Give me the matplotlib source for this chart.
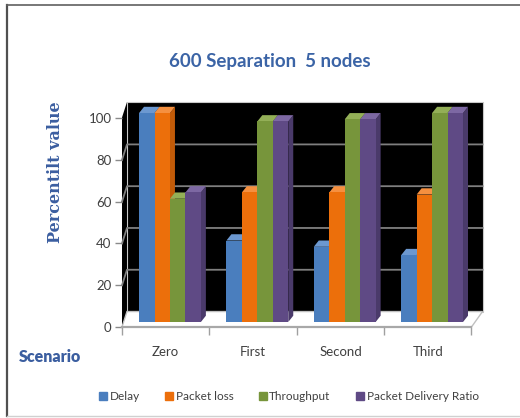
import matplotlib
matplotlib.use("Agg")
import matplotlib.pyplot as plt
from matplotlib.patches import Polygon
from matplotlib.lines import Line2D

# ---- data ----
categories = ["Zero", "First", "Second", "Third"]
series_names = ["Delay", "Packet loss", "Throughput", "Packet Delivery Ratio"]
delay = [100, 39, 36, 32]
packet_loss = [100, 62, 62, 61]
throughput = [59, 96, 97, 100]
delivery_ratio = [62, 96, 97, 100]
y_ticks = [0, 20, 40, 60, 80, 100]
y_tick_labels = ["0", "20", "40", "60", "80", "100"]

series = [delay, packet_loss, throughput, delivery_ratio]
front_colors = ["#4A7EBE", "#EC6F0B", "#77953B", "#5F4A85"]
top_colors = ["#6C98D0", "#F59040", "#93AF57", "#7D68A3"]
side_colors = ["#3A64A0", "#C25B08", "#5E7830", "#4A3A6A"]

SANS = "Lato"
SERIF = "DejaVu Serif"

W, H = 520, 418
fig = plt.figure(figsize=(W / 100, H / 100), dpi=100)
fig.patch.set_facecolor("white")

# outer frame of the chart area
fig.add_artist(Line2D([7 / W, 7 / W], [1 - 5 / H, 1 - 416 / H], color="#505050", lw=1.6))
fig.add_artist(Line2D([7 / W, 1.0], [1 - 5 / H, 1 - 5 / H], color="#606060", lw=1.2))
fig.add_artist(Line2D([7 / W, 1.0], [1 - 416 / H, 1 - 416 / H], color="#d0d0d0", lw=1.0))

# plotting region (front floor edge at bottom, back wall top at top)
y_lo, y_hi = -2.4, 105.3
x_lo, x_hi = -0.5, 3.626
ax = fig.add_axes([122 / W, 1 - 327 / H, 360.5 / W, 225 / H])
ax.set_xlim(x_lo, x_hi)
ax.set_ylim(y_lo, y_hi)
ax.set_facecolor("none")
for s in ax.spines.values():
    s.set_visible(False)

# depth of the 3-D box and of each bar
wall_dx, wall_dy = 0.057, 7.4
back_x_right = 3.626
bar_w = 0.177
bar_dx, bar_dy = 0.057, 3.0
group_offset = -0.305

# back wall, left wall, floor
back_left = x_lo + wall_dx
ax.add_patch(Polygon([(back_left, y_lo + wall_dy), (back_x_right, y_lo + wall_dy),
                      (back_x_right, y_hi), (back_left, y_hi)],
                     closed=True, facecolor="black", edgecolor="#c8c8c8", lw=0.8,
                     zorder=1, clip_on=False))
ax.add_patch(Polygon([(x_lo, y_lo), (back_left, y_lo + wall_dy), (back_left, y_hi),
                      (x_lo, y_hi - wall_dy)],
                     closed=True, facecolor="black", edgecolor="none",
                     zorder=1, clip_on=False))
ax.add_patch(Polygon([(x_lo, y_lo), (3.5, y_lo), (back_x_right, y_lo + wall_dy),
                      (back_left, y_lo + wall_dy)],
                     closed=True, facecolor="white", edgecolor="#c0c0c0", lw=1.0,
                     zorder=1, clip_on=False))
ax.plot([x_lo, 3.5], [y_lo, y_lo], color="#a8a8a8", lw=1.6, zorder=2, clip_on=False)

# gridlines on the walls
for v in y_ticks[1:-1]:
    ax.plot([x_lo, back_left, back_x_right], [v + y_lo, v + y_lo + wall_dy, v + y_lo + wall_dy],
            color="#7f7f7f", lw=1.3, zorder=2, clip_on=False)

# bars: front face via ax.bar, then top and side faces
z = 3
for ci in range(len(categories)):
    for si, vals in enumerate(series):
        x0 = ci + group_offset + si * bar_w
        h = vals[ci]
        x1 = x0 + bar_w
        ax.add_patch(Polygon([(x1, 0), (x1 + bar_dx, bar_dy), (x1 + bar_dx, h + bar_dy), (x1, h)],
                             closed=True, facecolor=side_colors[si], edgecolor="none",
                             zorder=z, clip_on=False))
        ax.add_patch(Polygon([(x0, h), (x1, h), (x1 + bar_dx, h + bar_dy), (x0 + bar_dx, h + bar_dy)],
                             closed=True, facecolor=top_colors[si], edgecolor="none",
                             zorder=z, clip_on=False))
        ax.bar([x0], [h], width=bar_w, align="edge", color=front_colors[si],
               edgecolor="none", zorder=z + 0.5, clip_on=False)
        z += 1

# y axis ticks along the front-left edge
ax.set_yticks([v + y_lo for v in y_ticks], labels=y_tick_labels)
ax.tick_params(axis="y", length=5, width=1.0, color="#8a8a8a", pad=2.5,
               labelsize=9.5, labelcolor="#404040")
for t in ax.get_yticklabels():
    t.set_family(SANS)

# x axis: category names centred, boundary tick marks
ax.set_xticks(range(len(categories)), labels=categories)
ax.set_xticks([-0.5, 0.5, 1.5, 2.5, 3.5], minor=True)
ax.tick_params(axis="x", which="major", length=0, pad=14, labelsize=9.5, labelcolor="#404040")
ax.tick_params(axis="x", which="minor", length=6, width=1.0, color="#a0a0a0")
for t in ax.get_xticklabels():
    t.set_family(SANS)

ax.set_ylabel("Percentilt value", family=SERIF, fontweight="bold", fontsize=11.5,
              color="#3B5EA0")
ax.yaxis.set_label_coords((64 - 122) / 360.5, (327 - 172) / 225)
ax.set_xlabel("Scenario", family=SANS, fontweight="heavy", fontsize=11.5,
              color="#3B5EA0", ha="center", va="center")
ax.xaxis.set_label_coords((50 - 122) / 360.5, (327 - 357) / 225)

fig.text(270 / W, 1 - 61 / H, "600 Separation  5 nodes", family=SANS, fontweight="bold",
         fontsize=13.5, color="#3B64A6", ha="center", va="center")

handles = [Line2D([], [], marker="s", linestyle="none", markersize=5.2,
                  markerfacecolor=c, markeredgecolor=c) for c in front_colors]
leg = fig.legend(handles, series_names, loc="center", bbox_to_anchor=(289 / W, 1 - 397 / H),
                 ncol=4, frameon=False, handlelength=0.6, handletextpad=0.25,
                 columnspacing=2.2, prop={"family": SANS, "size": 8.5})
for t in leg.get_texts():
    t.set_color("#404040")

fig.savefig("out.png", dpi=100)
